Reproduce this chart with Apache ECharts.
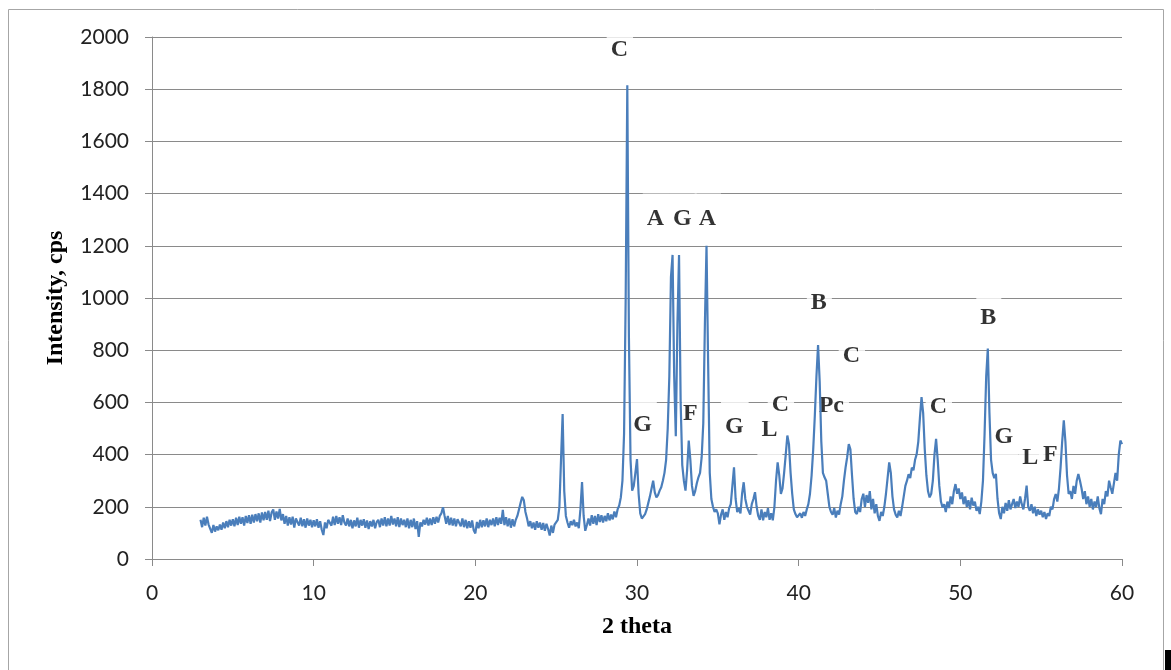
<!DOCTYPE html>
<html>
<head>
<meta charset="utf-8">
<script src="https://cdn.jsdelivr.net/npm/echarts@6/dist/echarts.min.js"></script>
<style>
  html, body { margin: 0; padding: 0; background: #fff; }
  #chart { width: 1171px; height: 670px; }
</style>
</head>
<body>
<div id="chart"></div>
<script>
// ---- Data ----
// Scan starts at 3.0 deg 2-theta, one reading every 0.1 deg, ends at 60.0 deg
const scanStart = 3.0;
const scanStep = 0.1;
// intensity (cps), one row per degree: x.0 ... x.9
const intensity = [
  150,122,158,128,162,132,125,100,130,105,   // 3
  125,110,132,112,140,118,145,122,150,128,   // 4
  152,125,158,130,162,135,160,128,165,138,   // 5
  168,135,170,140,172,145,175,140,178,148,   // 6
  180,150,185,145,178,190,150,182,155,192,   // 7
  148,172,135,165,128,160,132,162,120,155,   // 8
  150,128,158,125,152,120,155,128,150,122,   // 9
  148,125,152,120,145,112,92,140,118,150,    // 10
  155,128,162,130,165,135,160,130,168,140,   // 11
  128,155,125,150,118,148,125,158,120,150,   // 12
  128,152,120,148,115,145,125,150,118,142,   // 13
  150,122,155,128,160,125,155,128,165,132,   // 14
  155,125,160,122,155,130,150,122,155,118,   // 15
  150,122,155,115,145,85,140,125,150,132,    // 16
  158,128,155,130,160,135,162,140,165,175,   // 17
  198,165,135,165,130,158,128,155,125,152,   // 18
  150,125,155,122,150,118,145,120,148,110,   // 19
  98,142,118,150,122,148,125,155,122,150,    // 20
  130,155,125,160,130,158,135,188,130,160,   // 21
  125,155,120,152,125,150,165,190,215,238,   // 22
  225,180,155,125,145,118,140,112,145,120,   // 23
  140,112,138,108,135,115,90,128,100,132,    // 24
  135,150,200,380,555,260,165,140,120,145,   // 25
  130,150,125,140,118,190,295,165,108,130,   // 26
  155,128,168,135,165,130,172,142,168,140,   // 27
  165,145,175,148,170,152,182,160,190,205,   // 28
  236,300,480,1000,1815,850,380,262,280,330, // 29
  383,250,175,155,160,172,190,215,240,270,   // 30
  300,255,236,245,262,275,300,330,380,500,   // 31
  700,1080,1165,700,470,900,1165,600,360,300,// 32
  262,340,454,380,280,242,260,290,313,330,   // 33
  390,520,900,1200,750,330,230,200,180,190,  // 34
  175,133,170,190,150,180,160,195,210,280,   // 35
  351,230,180,195,175,250,294,230,200,185,   // 36
  170,210,230,256,200,165,150,190,148,180,   // 37
  160,195,150,175,148,200,300,370,320,249,   // 38
  270,330,400,473,440,330,250,190,172,160,   // 39
  153,175,158,180,165,190,210,250,320,420,   // 40
  550,700,820,680,450,330,313,300,250,200,   // 41
  180,170,195,159,185,170,210,240,300,350,   // 42
  390,440,420,320,230,180,172,200,180,230,   // 43
  250,200,245,215,260,190,230,175,210,165,   // 44
  146,180,165,200,250,310,370,330,240,190,   // 45
  170,159,185,165,200,240,280,300,325,310,   // 46
  350,340,380,402,450,540,620,560,420,320,   // 47
  260,236,250,300,400,460,380,280,220,197,   // 48
  210,180,220,195,240,210,260,287,250,270,   // 49
  230,255,210,240,200,225,190,235,205,220,   // 50
  185,200,172,220,300,480,700,806,560,380,   // 51
  330,310,326,230,175,153,200,175,215,185,   // 52
  225,190,210,230,195,220,200,240,210,190,   // 53
  230,281,200,185,210,175,200,165,190,170,   // 54
  185,160,180,153,175,165,200,190,230,249,   // 55
  220,270,350,450,531,450,320,249,260,230,   // 56
  280,250,300,326,300,270,230,260,210,240,   // 57
  200,230,190,220,200,240,195,172,230,210,   // 58
  260,240,300,274,250,290,330,300,400,454,   // 59
  440                                        // 60
];

// Phase annotations: text and where they sit (2-theta, intensity)
const phaseText      = ['C', 'A', 'G', 'A', 'G', 'F', 'G', 'L', 'C', 'B', 'C', 'Pc', 'C', 'B', 'G', 'L', 'F'];
const phaseTheta     = [28.94, 31.17, 32.84, 34.38, 30.37, 33.33, 36.05, 38.22, 38.9, 41.28, 43.29, 42.05, 48.67, 51.76, 52.72, 54.36, 55.6];
const phaseIntensity = [1950, 1305, 1305, 1305, 513, 555, 506, 494, 590, 981, 778, 586, 582, 923, 467, 387, 398];

// Axes
const xMin = 0, xMax = 60, xStep = 10;
const yMin = 0, yMax = 2000, yStep = 200;
const xTitle = '2 theta';
const yTitle = 'Intensity, cps';

// ---- Build series data ----
const twoTheta = intensity.map((_, i) => Math.round((scanStart + i * scanStep) * 10) / 10);
const lineData = twoTheta.map((t, i) => [t, intensity[i]]);
const labelData = phaseText.map((txt, i) => ({ value: [phaseTheta[i], phaseIntensity[i]], name: txt }));

const gridColor = '#8a8a8a';
const tickFont = { fontFamily: 'Lato', fontSize: 21, color: '#222' };

const chart = echarts.init(document.getElementById('chart'), null, { renderer: 'canvas' });
chart.setOption({
  animation: false,
  backgroundColor: '#fff',
  graphic: [
    { type: 'rect', shape: { x: 8.5, y: 9.5, width: 1155, height: 700 },
      style: { fill: 'none', stroke: '#a6a6a6', lineWidth: 1 }, z: -1 },
    { type: 'rect', shape: { x: 1165, y: 650, width: 6, height: 20 },
      style: { fill: '#000' }, z: 10 }
  ],
  grid: { left: 152, right: 49, top: 37, bottom: 111, containLabel: false },
  xAxis: {
    type: 'value', min: xMin, max: xMax, interval: xStep,
    name: xTitle, nameLocation: 'middle', nameGap: 56,
    nameTextStyle: { fontFamily: 'Liberation Serif', fontWeight: 'bold', fontSize: 24, color: '#000' },
    axisLine: { show: true, onZero: false, lineStyle: { color: gridColor, width: 1 } },
    axisTick: { show: true, inside: false, length: 7, lineStyle: { color: gridColor } },
    axisLabel: Object.assign({ margin: 24, formatter: v => String(v) }, tickFont),
    splitLine: { show: false }
  },
  yAxis: {
    type: 'value', min: yMin, max: yMax, interval: yStep,
    name: yTitle, nameLocation: 'middle', nameGap: 84, nameRotate: 90,
    nameTextStyle: { fontFamily: 'Liberation Serif', fontWeight: 'bold', fontSize: 24, color: '#000' },
    axisLine: { show: true, lineStyle: { color: gridColor, width: 1 } },
    axisTick: { show: true, inside: false, length: 7, lineStyle: { color: gridColor } },
    axisLabel: Object.assign({ margin: 23, formatter: v => String(v) }, tickFont),
    splitLine: { show: true, lineStyle: { color: gridColor, width: 1 } }
  },
  series: [
    {
      type: 'scatter',
      data: labelData,
      symbolSize: 0,
      z: 2,
      silent: true,
      label: {
        show: true, position: 'inside',
        formatter: p => p.name,
        fontFamily: 'Liberation Serif', fontWeight: 'bold', fontSize: 24, color: '#000',
        backgroundColor: '#fff', padding: [13, 5, 13, 4]
      }
    },
    {
      type: 'line',
      data: lineData,
      showSymbol: false,
      symbol: 'none',
      z: 3,
      lineStyle: { color: '#4a7ebb', width: 2.2 }
    }
  ]
});
</script>
</body>
</html>
